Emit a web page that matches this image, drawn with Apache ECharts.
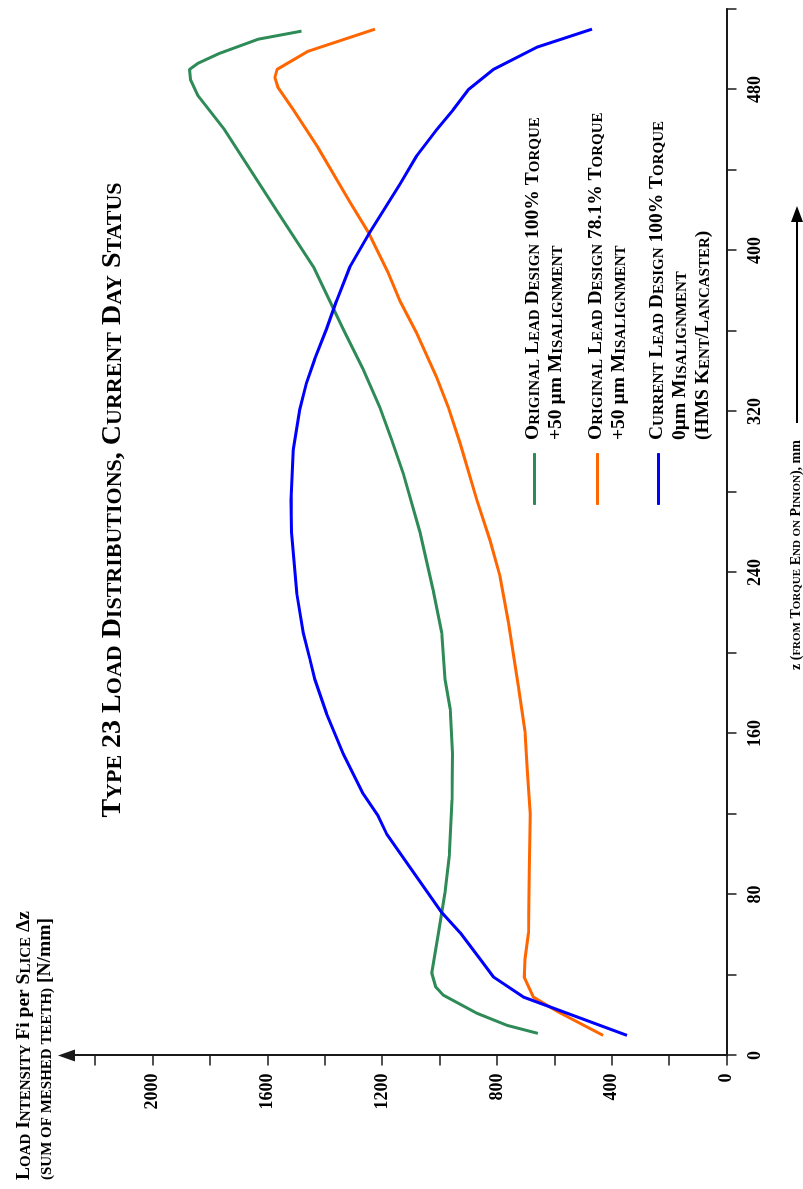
<!DOCTYPE html>
<html><head><meta charset="utf-8">
<script src="https://cdn.jsdelivr.net/npm/echarts@6/dist/echarts.min.js"></script>
<style>
html,body{margin:0;padding:0;background:#fff;overflow:hidden;}
#wrap{position:relative;width:803px;height:1189px;overflow:hidden;background:#fff;}
#chart{position:absolute;left:0;top:0;width:1189px;height:803px;transform-origin:0 0;transform:rotate(-90deg) translateX(-1189px);}
</style></head><body>
<div id="wrap"><div id="chart"></div></div>
<script>
const seriesNames = [
  'Original Lead Design 100% Torque +50 µm Misalignment',
  'Original Lead Design 78.1% Torque +50 µm Misalignment',
  'Current Lead Design 100% Torque 0µm Misalignment (HMS Kent/Lancaster)'
];
const legendMarkup = [
  'O{riginal} L{ead} D{esign} 100% T{orque}\n+50 µm M{isalignment}',
  'O{riginal} L{ead} D{esign} 78.1% T{orque}\n+50 µm M{isalignment}',
  'C{urrent} L{ead} D{esign} 100% T{orque}\n0µm M{isalignment}\n(HMS K{ent}/L{ancaster})'
];
const titleMarkup = 'T{ype} 23 L{oad} D{istributions}, C{urrent} D{ay} S{tatus}';
const yNameMarkup = 'L{oad} I{ntensity} Fi per S{lice} Δz\n{(sum of meshed teeth)} [N/mm]';
const xNameMarkup = 'z ({from} T{orque} E{nd} {on} P{inion}), mm';

const zTicks = [0,40,80,120,160,200,240,280,320,360,400,440,480,520];
const zTickLabels = [0,80,160,240,320,400,480];
const loadTicks = [0,200,400,600,800,1000,1200,1400,1600,1800,2000,2200];
const loadTickLabels = [0,400,800,1200,1600,2000];

const zGreen = [11,15,21,30,34,41,61,81,99,127,150,172,187,210,231,260,289,306,322,341,361,392,420,460,477,485,490,493,498,505,509];
const loadGreen = [657,765,870,987,1013,1027,1004,981,966,957,955,963,981,992,1022,1068,1126,1167,1208,1266,1336,1440,1568,1749,1842,1868,1871,1842,1766,1632,1481];

const zOrange = [10,22,29,39,48,61,91,120,142,161,183,215,238,256,276,304,322,337,359,375,389,409,424,451,470,481,486,490,499,510];
const loadOrange = [430,591,673,705,702,690,687,684,694,702,725,760,789,824,870,928,969,1010,1080,1138,1179,1248,1312,1423,1510,1563,1574,1566,1458,1225];

const zBlue = [10,29,39,48,61,71,91,110,119,130,150,170,187,197,210,230,260,276,301,321,334,346,361,375,392,409,433,447,460,470,480,490,501,510];
const loadBlue = [347,707,812,859,928,992,1091,1184,1214,1266,1336,1394,1435,1452,1475,1498,1516,1518,1510,1487,1464,1435,1394,1359,1312,1243,1138,1080,1010,952,899,812,661,469];

const FONT = '"Liberation Serif", "Times New Roman", serif';
function sc(str) {
  return str.split('\n').map(function (line) {
    let out = '', last = 0, m;
    const re = /\{([^}]*)\}/g;
    while ((m = re.exec(line))) {
      if (m.index > last) out += '{b|' + line.slice(last, m.index) + '}';
      out += '{s|' + m[1].toUpperCase() + '}';
      last = re.lastIndex;
    }
    if (last < line.length) out += '{b|' + line.slice(last) + '}';
    return out;
  }).join('\n');
}
function richSet(B, S, LH) {
  return {
    b: {fontSize: B, fontWeight: 'bold', fontFamily: FONT, color: '#000', lineHeight: LH, verticalAlign: 'bottom'},
    s: {fontSize: S, fontWeight: 'bold', fontFamily: FONT, color: '#000', lineHeight: LH - 0.6 * (B - S), verticalAlign: 'bottom'}
  };
}
function zip(a, b) { return a.map(function (v, i) { return [v, b[i]]; }); }

const colors = ['#2e8b57', '#ff6600', '#0000ff'];
const seriesData = [zip(zGreen, loadGreen), zip(zOrange, loadOrange), zip(zBlue, loadBlue)];

const LH = 23;
const legendCenters = [533, 596, 657];
const legends = seriesNames.map(function (nm, i) {
  const n = legendMarkup[i].split('\n').length;
  return {
    data: [nm], left: 684, top: legendCenters[i] - 10,
    orient: 'vertical', padding: 0, selectedMode: false,
    icon: 'roundRect', itemWidth: 52, itemHeight: 3,
    formatter: function () { return sc(legendMarkup[i]); },
    textStyle: {padding: [(n - 1) * LH - 6, 0, 0, 8], rich: richSet(19.5, 15, LH)}
  };
});

const axisColor = '#1a1a1a';
const chart = echarts.init(document.getElementById('chart'), null, {renderer: 'canvas'});
chart.setOption({
  animation: false,
  backgroundColor: '#fff',
  title: [
    {text: sc(titleMarkup), left: 689, top: 110, textAlign: 'center', textVerticalAlign: 'middle', padding: 0,
     textStyle: {rich: richSet(28, 22, 33)}},
    {text: sc(yNameMarkup), left: 9, top: 33.5, textAlign: 'left', textVerticalAlign: 'middle', padding: 0,
     textStyle: {rich: richSet(19.5, 15, 21)}},
    {text: sc(xNameMarkup), left: 519, top: 795, textAlign: 'left', textVerticalAlign: 'middle', padding: 0,
     textStyle: {rich: richSet(14, 11, 16)}}
  ],
  legend: legends,
  grid: {left: 133.5, right: 9, top: 66.5, bottom: 76.5, containLabel: false, outerBoundsMode: 'none'},
  xAxis: {
    type: 'value', min: 0, max: 520,
    axisLine: {show: true, onZero: false, lineStyle: {color: axisColor, width: 2}},
    axisTick: {show: true, customValues: zTicks, length: 10, lineStyle: {color: axisColor, width: 1.5}},
    axisLabel: {customValues: zTickLabels, formatter: function (v) { return String(v); }, margin: 20, fontSize: 18, fontWeight: 'bold', fontFamily: FONT, color: '#000'},
    splitLine: {show: false}
  },
  yAxis: {
    type: 'value', min: 0, max: 2300,
    axisLine: {show: true, onZero: false, symbol: ['none', 'triangle'], symbolSize: [12, 17],
               lineStyle: {color: axisColor, width: 2}},
    axisTick: {show: true, customValues: loadTicks, length: 10, lineStyle: {color: axisColor, width: 1.5}},
    axisLabel: {customValues: loadTickLabels, formatter: function (v) { return String(v); }, margin: 18, fontSize: 18, fontWeight: 'bold', fontFamily: FONT, color: '#000'},
    splitLine: {show: false}
  },
  graphic: [
    {type: 'line', shape: {x1: 766, y1: 797, x2: 970, y2: 797}, style: {stroke: '#000', lineWidth: 2}},
    {type: 'polygon', shape: {points: [[983, 797], [967, 791], [967, 803]]}, style: {fill: '#000'}}
  ],
  series: seriesNames.map(function (nm, i) {
    return {
      name: nm, type: 'line', data: seriesData[i], showSymbol: false, symbol: 'none',
      lineStyle: {color: colors[i], width: 3}, itemStyle: {color: colors[i]}, z: 2 + i,
      emphasis: {disabled: true}
    };
  })
});
</script>
</body></html>
